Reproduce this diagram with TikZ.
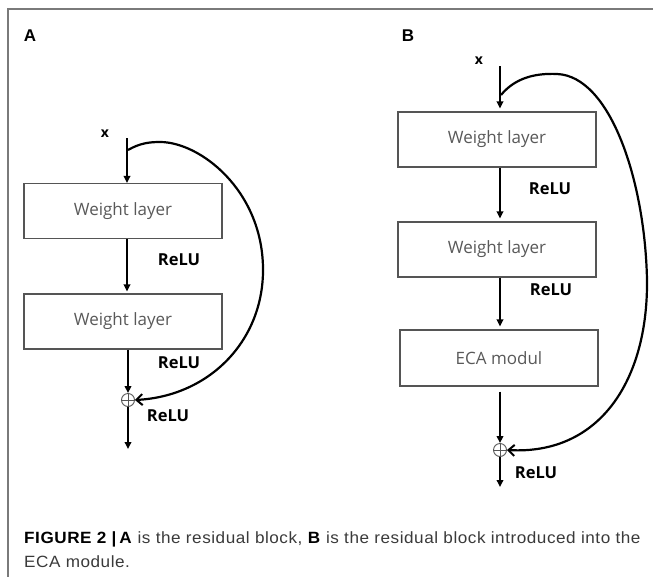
\documentclass[tikz,border=0pt]{standalone}
\usepackage{fontspec}
\usepackage{graphicx}
\setmainfont{Open Sans}
\newfontfamily\capfont[LetterSpace=3.2]{Liberation Sans}
\newfontfamily\lblfont{Liberation Sans}
\usetikzlibrary{arrows.meta,calc}
\definecolor{framegray}{HTML}{7A7A7A}
\definecolor{boxgray}{HTML}{555555}
\definecolor{txtgray}{HTML}{595959}
\definecolor{capgray}{HTML}{3A3A3A}
\tikzset{
  layerbox/.style={draw=boxgray, line width=1.1pt, minimum width=198pt, minimum height=55pt, inner sep=0pt,
     text=txtgray, font=\fontsize{17}{19}\selectfont},
  relu/.style={font=\bfseries\fontsize{16.5}{19}\selectfont, inner sep=0pt},
  xlab/.style={font=\bfseries\fontsize{14}{16}\selectfont, inner sep=0pt},
  panel/.style={font=\lblfont\bfseries\fontsize{17}{20}\selectfont, inner sep=0pt},
  captext/.style={anchor=base west, inner sep=0pt, text=capgray, font=\capfont\fontsize{16.3}{20}\selectfont},
  flow/.style={line width=1.8pt, -{Triangle[length=7pt,width=6.5pt]}},
  skip/.style={line width=2.2pt, -{Straight Barb[length=6pt,width=11pt,line width=2pt]}},
  plusnode/.style={circle, draw=boxgray, line width=0.9pt, minimum size=13pt, inner sep=0pt},
}
\begin{document}
\begin{tikzpicture}[x=1pt,y=-1pt]
\useasboundingbox (0,0) rectangle (653,576);
\fill[white] (0,0) rectangle (653,576);
% frame
\draw[framegray, line width=1.4pt] (8,580) -- (8,9) -- (660,9);

% Panel A
\node[panel] (labA) at (30,36) {A};
\node[xlab] (xA) at (105,134) {x};
\coordinate (ta) at (127,138);
\node[layerbox] (a1) at (123,211) {Weight layer};
\node[layerbox] (a2) at (123,321.5) {Weight layer};
\node[plusnode] (pa) at (128,400) {};
\draw[boxgray, line width=0.9pt] (pa.north) -- (pa.south) (pa.west) -- (pa.east);
\coordinate (ea) at (128,449);
\node[relu] (ra1) at (179,260) {ReLU};
\node[relu] (ra2) at (179,363) {ReLU};
\node[relu] (ra3) at (168,416) {ReLU};
\draw[flow] (ta) -- (ta |- a1.north);
\draw[flow] (a1.south -| ta) -- ($(a2.north -| ta)+(0,-2)$);
\draw[flow] (a2.south -| pa) -- (pa.north);
\draw[flow] (pa.south) -- (ea);
\coordinate (sa) at (128,150);
\draw[skip] (sa) .. controls (140,143) and (150,142) .. (160,142)
   .. controls (200,142) and (262,190) .. (263,268)
   .. controls (264,340) and (210,396) .. (pa.east);

% Panel B
\node[panel] (labB) at (408,36) {B};
\node[xlab] (xB) at (479,61) {x};
\coordinate (tb) at (500,66);
\node[layerbox] (b1) at (497,139.5) {Weight layer};
\node[layerbox] (b2) at (497,249.5) {Weight layer};
\node[layerbox, minimum height=56pt] (b3) at (499,358) {ECA modul};
\node[plusnode] (pb) at (500,450) {};
\draw[boxgray, line width=0.9pt] (pb.north) -- (pb.south) (pb.west) -- (pb.east);
\coordinate (eb) at (500,487);
\node[relu] (rb1) at (550,189) {ReLU};
\node[relu] (rb2) at (551,290) {ReLU};
\node[relu] (rb3) at (536,473) {ReLU};
\draw[flow] (tb) -- ($(tb |- b1.north)+(0,-3)$);
\draw[flow] (b1.south -| tb) -- ($(b2.north -| tb)+(0,-3)$);
\draw[flow] (b2.south -| tb) -- ($(b3.north -| tb)+(0,-3)$);
\draw[flow] ($(b3.south -| tb)+(0,5)$) -- (pb.north);
\draw[flow] (pb.south) -- (eb);
\coordinate (sb) at (501,95);
\draw[skip] (sb) .. controls (515,78) and (535,73) .. (557,74)
   .. controls (610,76) and (645,180) .. (647,280)
   .. controls (648,380) and (600,455) .. (pb.east);

% caption
\node[captext] (cap1) at (24,543)
  {\scalebox{1.05}[1]{\textcolor{black}{\textbf{FIGURE 2 |\,A}} is the residual block, \textcolor{black}{\textbf{B}} is the residual block introduced into the}};
\node[captext] (cap2) at (24,567)
  {\scalebox{1.05}[1]{ECA module.}};
\end{tikzpicture}
\end{document}
